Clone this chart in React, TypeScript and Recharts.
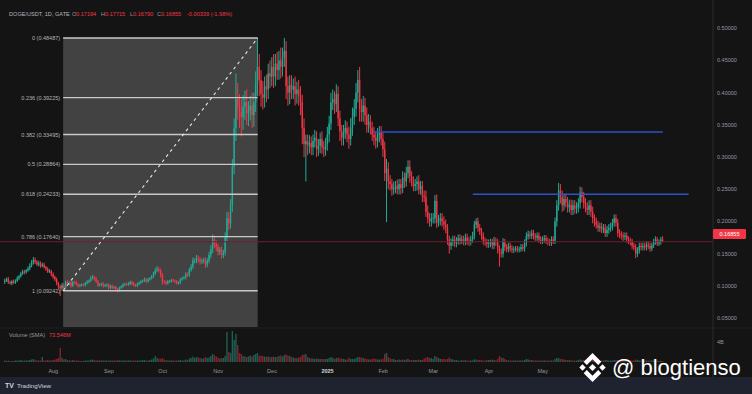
import React from "react";
import {
  ComposedChart,
  Bar,
  XAxis,
  YAxis,
  ReferenceLine,
  ReferenceArea,
} from "recharts";

// DOGE/USDT daily candles, first candle 2024-07-05, prices in 1/1000 USDT
const firstOpen = 106;

const closes = [
  // Jul 2024 (from 5th)
  108, 111, 106, 104, 107, 105, 108, 112, 115, 119, 122, 121, 124, 127, 131, 136, 140, 137, 133, 135, 131, 133, 129, 126, 122, 123, 118,
  // Aug
  114, 110, 104, 99, 96, 101, 97, 106, 104, 105, 100, 106, 105, 102, 100, 101, 102, 101, 104, 106, 108, 112, 114, 111, 107, 101, 102, 103, 100, 101, 102,
  // Sep
  97, 100, 97, 98, 95, 93, 97, 99, 102, 103, 102, 103, 106, 104, 101, 100, 103, 105, 107, 108, 110, 107, 110, 112, 114, 119, 124, 126, 124, 117,
  // Oct
  107, 106, 104, 107, 107, 109, 108, 107, 104, 105, 110, 112, 113, 118, 117, 125, 130, 139, 139, 143, 141, 138, 139, 140, 133, 139, 148, 157, 172, 166, 160,
  // Nov
  153, 156, 148, 152, 175, 205, 197, 225, 285, 345, 390, 378, 370, 362, 378, 385, 368, 372, 380, 365, 385, 415, 440, 420, 398, 392, 410, 405, 430, 425,
  // Dec
  440, 425, 445, 435, 450, 440, 455, 465, 410, 400, 412, 405, 410, 398, 405, 395, 385, 345, 320, 325, 318, 322, 315, 325, 330, 312, 318, 328, 315, 312, 320,
  // Jan 2025
  335, 352, 385, 390, 382, 398, 360, 340, 330, 338, 345, 335, 328, 345, 362, 375, 400, 420, 375, 370, 380, 365, 350, 355, 345, 335, 330, 325, 335, 338, 328,
  // Feb
  312, 275, 282, 262, 258, 250, 252, 255, 250, 258, 252, 268, 262, 275, 285, 270, 262, 255, 258, 262, 250, 255, 240, 238, 215, 205, 200, 205,
  // Mar
  205, 232, 198, 202, 205, 200, 195, 190, 172, 162, 168, 172, 166, 170, 174, 170, 172, 168, 175, 170, 168, 172, 178, 195, 200, 190, 185, 178, 170, 168, 165,
  // Apr
  166, 168, 163, 170, 168, 158, 152, 150, 168, 160, 157, 162, 158, 156, 157, 158, 156, 157, 160, 158, 166, 177, 180, 178, 182, 177, 175, 178, 172, 170,
  // May
  172, 174, 170, 168, 167, 172, 170, 200, 225, 248, 238, 225, 235, 230, 222, 226, 218, 225, 220, 222, 228, 245, 238, 228, 222, 218, 225, 215, 205, 200, 195,
  // Jun
  190, 192, 188, 190, 182, 187, 190, 192, 198, 205, 198, 182, 180, 178, 176, 178, 172, 170, 168, 162, 160, 150, 155, 162, 160, 162, 160, 164, 162, 158,
  // Jul 2025
  163, 168, 172, 166, 168, 171.94, 168.55,
];

// upper wick above the body, same units
const upWicks = [
  3, 2, 3, 2, 2, 3, 2, 3, 2, 3, 3, 3, 2, 3, 4, 4, 5, 4, 3, 4, 3, 3, 3, 2, 3, 3, 2,
  3, 2, 3, 2, 3, 4, 3, 2, 3, 2, 3, 2, 2, 3, 2, 2, 2, 2, 2, 3, 2, 3, 3, 2, 3, 2, 2, 2, 3, 2, 2,
  2, 2, 2, 2, 2, 2, 2, 2, 2, 2, 2, 3, 2, 2, 2, 2, 2, 2, 2, 2, 3, 2, 2, 2, 3, 3, 4, 5, 3, 3,
  3, 2, 2, 2, 2, 2, 2, 2, 2, 2, 2, 2, 2, 3, 3, 3, 4, 5, 4, 5, 4, 4, 3, 4, 4, 4, 5, 6, 8, 6, 5,
  5, 4, 5, 4, 8, 10, 10, 10, 12, 15, 40, 25, 20, 20, 18, 18, 20, 15, 15, 20, 15, 18, 45, 20, 15, 20, 15, 18, 15, 20,
  15, 20, 15, 18, 15, 20, 15, 20, 15, 15, 15, 15, 12, 15, 12, 15, 15, 12, 15, 10, 10, 12, 10, 10, 12, 10, 10, 10, 12, 10, 10,
  12, 12, 15, 15, 12, 15, 12, 12, 10, 12, 12, 10, 12, 15, 15, 15, 15, 15, 20, 15, 15, 12, 12, 12, 10, 10, 12, 10, 10, 10, 10,
  10, 12, 15, 10, 10, 8, 10, 8, 10, 8, 8, 10, 8, 10, 10, 10, 8, 8, 8, 8, 10, 8, 8, 8, 10, 10, 8, 8,
  8, 9, 10, 8, 8, 8, 8, 8, 6, 6, 6, 6, 6, 6, 6, 6, 6, 6, 6, 6, 6, 6, 6, 6, 5, 6, 6, 5, 5, 5, 5,
  6, 5, 5, 6, 5, 5, 5, 6, 6, 5, 5, 5, 5, 5, 4, 4, 4, 4, 5, 5, 6, 6, 6, 5, 5, 5, 5, 5, 5, 5,
  5, 5, 5, 5, 5, 5, 5, 6, 8, 12, 10, 10, 8, 8, 8, 8, 8, 8, 8, 8, 8, 9, 8, 8, 8, 8, 8, 8, 8, 6, 6,
  6, 6, 6, 6, 6, 6, 6, 6, 6, 6, 6, 6, 6, 5, 5, 5, 5, 5, 5, 5, 5, 5, 5, 5, 5, 5, 5, 5, 5, 5,
  4, 5, 5, 4, 4, 4, 5.21,
];

// lower wick below the body
const downWicks = [
  3, 2, 3, 2, 3, 2, 2, 2, 3, 2, 2, 3, 2, 2, 3, 2, 3, 3, 2, 3, 3, 2, 2, 3, 2, 2, 3,
  3, 3, 3, 4, 12, 4, 3, 2, 3, 3, 3, 2, 2, 2, 3, 2, 2, 2, 2, 2, 2, 2, 2, 3, 2, 3, 2, 2, 3, 2, 3,
  3, 2, 2, 2, 2, 3, 2, 2, 2, 2, 2, 2, 2, 3, 2, 2, 2, 2, 2, 2, 2, 3, 2, 2, 2, 2, 2, 3, 3, 4,
  5, 3, 3, 2, 2, 2, 2, 3, 2, 2, 2, 2, 2, 3, 3, 3, 3, 4, 4, 4, 5, 5, 4, 4, 5, 4, 4, 5, 6, 7, 6,
  6, 5, 6, 5, 5, 6, 10, 8, 10, 12, 20, 20, 25, 30, 20, 20, 18, 20, 15, 20, 18, 15, 20, 25, 20, 18, 15, 20, 15, 18,
  15, 18, 15, 15, 15, 18, 15, 15, 20, 20, 18, 15, 15, 18, 15, 15, 20, 25, 20, 58, 15, 12, 12, 12, 10, 12, 10, 12, 10, 12, 10,
  10, 12, 10, 12, 15, 12, 12, 15, 12, 12, 10, 12, 15, 10, 12, 12, 12, 15, 20, 15, 15, 15, 12, 12, 10, 10, 12, 12, 10, 12, 10,
  12, 12, 76, 12, 10, 10, 8, 8, 8, 8, 10, 8, 10, 8, 8, 10, 8, 8, 8, 10, 8, 8, 10, 8, 8, 8, 8, 8,
  8, 8, 8, 6, 8, 8, 8, 8, 8, 12, 6, 6, 6, 6, 6, 6, 5, 5, 5, 6, 6, 5, 5, 6, 6, 6, 6, 6, 6, 6, 6,
  6, 6, 6, 6, 6, 8, 22, 6, 6, 6, 5, 5, 5, 5, 5, 4, 4, 4, 4, 4, 5, 5, 5, 5, 5, 5, 5, 5, 5, 5,
  5, 5, 5, 5, 5, 5, 5, 5, 8, 8, 10, 10, 8, 8, 8, 8, 8, 8, 8, 8, 8, 8, 8, 8, 8, 8, 8, 8, 8, 8, 6,
  6, 6, 6, 6, 6, 6, 6, 6, 6, 6, 6, 6, 6, 6, 6, 5, 5, 5, 5, 5, 5, 7, 5, 5, 5, 5, 5, 5, 5, 5,
  4, 4, 4, 4, 4, 4, 0.65,
];

// daily volume, billions DOGE
const volumes = [
  0.3, 0.2, 0.3, 0.2, 0.2, 0.2, 0.3, 0.3, 0.3, 0.4, 0.3, 0.3, 0.3, 0.3, 0.4, 0.5, 0.6, 0.4, 0.3, 0.3, 0.3, 1.0, 0.3, 0.3, 0.4, 0.3, 0.3,
  0.4, 0.5, 0.6, 0.8, 2.8, 0.8, 0.5, 0.6, 0.4, 0.3, 0.3, 0.4, 0.3, 0.3, 0.3, 0.2, 0.2, 0.2, 0.3, 0.3, 0.3, 0.4, 0.5, 0.4, 0.3, 0.4, 0.3, 0.3, 0.3, 0.3, 0.3,
  0.3, 0.3, 0.3, 0.3, 0.3, 0.4, 0.3, 0.3, 0.3, 0.3, 0.3, 0.3, 0.3, 0.3, 0.3, 0.3, 0.3, 0.3, 0.3, 0.4, 0.4, 0.3, 0.3, 0.4, 0.5, 0.7, 1.2, 0.8, 0.7, 0.6,
  0.8, 0.5, 0.4, 0.3, 0.3, 0.3, 0.3, 0.3, 0.3, 0.3, 0.4, 0.3, 0.3, 0.5, 0.4, 0.7, 0.8, 1.1, 0.8, 1.0, 0.9, 0.8, 0.7, 0.7, 1.0, 0.8, 0.9, 1.2, 1.6, 1.3, 1.1,
  0.9, 0.7, 0.8, 0.8, 1.2, 6.0, 2.0, 1.8, 6.2, 4.4, 5.6, 3.4, 1.8, 1.6, 1.2, 1.1, 1.0, 1.1, 1.3, 1.1, 1.4, 1.6, 1.8, 1.2, 1.3, 1.2, 1.1, 1.0, 1.1, 1.0,
  1.0, 1.1, 1.0, 1.0, 1.2, 1.3, 1.1, 1.4, 1.5, 1.3, 1.2, 1.0, 0.9, 0.8, 0.8, 0.9, 1.0, 1.4, 1.5, 1.6, 1.0, 0.8, 0.7, 0.7, 0.6, 0.7, 0.6, 0.6, 0.6, 0.6, 0.6,
  0.6, 0.8, 1.0, 0.8, 0.6, 0.8, 0.9, 0.7, 0.7, 0.6, 0.5, 0.5, 0.9, 0.6, 0.6, 0.6, 0.8, 1.0, 1.0, 0.9, 0.8, 0.7, 0.6, 0.5, 0.5, 0.6, 0.7, 0.6, 0.5, 0.5, 0.5,
  0.7, 1.6, 1.8, 1.0, 0.7, 0.6, 0.6, 0.4, 0.4, 0.5, 0.4, 0.5, 0.4, 0.5, 0.6, 0.4, 0.4, 0.4, 0.4, 0.4, 0.5, 0.4, 0.4, 0.7, 0.9, 1.0, 0.8, 0.8,
  0.6, 1.2, 1.0, 0.8, 0.6, 0.6, 0.6, 0.5, 0.6, 0.9, 0.6, 0.5, 0.4, 0.4, 0.3, 0.3, 0.4, 0.3, 0.4, 0.3, 0.3, 0.3, 0.3, 0.5, 0.5, 0.4, 0.4, 0.4, 0.3, 0.3, 0.4,
  0.4, 0.4, 0.5, 0.4, 0.3, 0.6, 1.2, 0.9, 0.8, 0.6, 0.4, 0.3, 0.3, 0.3, 0.3, 0.3, 0.3, 0.3, 0.3, 0.3, 0.4, 0.6, 0.5, 0.4, 0.4, 0.3, 0.3, 0.3, 0.3, 0.3,
  0.3, 0.3, 0.3, 0.3, 0.3, 0.3, 0.3, 0.6, 0.8, 0.8, 0.6, 0.6, 0.5, 0.4, 0.4, 0.4, 0.3, 0.3, 0.3, 0.3, 0.4, 0.5, 0.4, 0.4, 0.3, 0.3, 0.3, 0.4, 0.4, 0.3, 0.3,
  0.3, 0.3, 0.3, 0.3, 0.4, 0.4, 0.3, 0.3, 0.3, 0.4, 0.4, 0.4, 0.4, 0.3, 0.3, 0.3, 0.3, 0.3, 0.3, 0.3, 0.3, 0.5, 0.4, 0.3, 0.3, 0.3, 0.3, 0.3, 0.3, 0.3,
  0.3, 0.3, 0.3, 0.3, 0.2, 0.2, 0.2,
];

// month starts, as candle index
const monthTicks = [27, 58, 88, 119, 149, 180, 211, 239, 270, 300];
const monthLabels = ["Aug", "Sep", "Oct", "Nov", "Dec", "2025", "Feb", "Mar", "Apr", "May"];

const priceTicks = [50, 100, 150, 200, 250, 300, 350, 400, 450, 500];

const fibRatios = ["0", "0.236", "0.382", "0.5", "0.618", "0.786", "1"];
const fibPrices = [484.87, 392.25, 334.95, 288.64, 242.33, 176.4, 92.42];
const fibStart = 32.5;
const fibEnd = 141;

const blueLines = [
  { from: 205.3, to: 367, price: 339 },
  { from: 261, to: 381.4, price: 242.3 },
];

const lastClose = 168.55;

const X_MIN = -2.73;
const X_MAX = 395;
const P_MIN = -18.2;
const P_MAX = 543.9;
const V_MAX = 72.4;
const FIB_FLOOR = 36.2;

const UP = "#22ab94";
const DOWN = "#f23645";
const FONT = "'Liberation Sans', Arial, sans-serif";
const GREY = "#9598a1";

const candles = closes.map((c, i) => {
  const o = i === 0 ? firstOpen : closes[i - 1];
  const h = Math.max(o, c) + upWicks[i];
  const l = Math.min(o, c) - downWicks[i];
  return { i, o, c, h, l, range: [l, h], v: volumes[i] };
});

function Candle(props: any) {
  const { x, y, width, height, payload } = props;
  if (!payload) return null;
  const { o, c, h, l } = payload;
  const top = Math.min(y, y + height);
  const span = Math.abs(height);
  const k = h > l ? span / (h - l) : 0;
  const cx = x + width / 2;
  const bTop = top + (h - Math.max(o, c)) * k;
  const bBot = top + (h - Math.min(o, c)) * k;
  const color = c >= o ? UP : DOWN;
  return (
    <g>
      <line x1={cx} x2={cx} y1={top} y2={top + span} stroke={color} strokeWidth={1} />
      <rect x={cx - 0.7} y={bTop} width={1.4} height={Math.max(bBot - bTop, 0.7)} fill={color} />
    </g>
  );
}

function VolumeBar(props: any) {
  const { x, y, width, height, payload } = props;
  if (!payload) return null;
  const top = Math.min(y, y + height);
  const color = payload.c >= payload.o ? "rgba(34,171,148,0.5)" : "rgba(242,54,69,0.5)";
  return <rect x={x + width / 2 - 0.7} y={top} width={1.4} height={Math.abs(height)} fill={color} />;
}

function MonthTick(props: any) {
  const { x, y, payload } = props;
  const label = monthLabels[monthTicks.indexOf(payload.value)];
  const bold = label === "2025";
  return (
    <text
      x={x}
      y={y + 9}
      textAnchor="middle"
      fontSize={5.5}
      fontFamily={FONT}
      fontWeight={bold ? 700 : 400}
      fill={bold ? "#d1d4dc" : GREY}
    >
      {label}
    </text>
  );
}

export default function App() {
  return (
    <div
      style={{
        position: "relative",
        width: 752,
        height: 394,
        background: "#141414",
        overflow: "hidden",
      }}
    >
      <style>{"body{margin:0}"}</style>
      <ComposedChart
        width={752}
        height={377}
        data={candles}
        margin={{ top: 0, right: 0, bottom: 0, left: 0 }}
      >
        <XAxis
          xAxisId="p"
          type="number"
          dataKey="i"
          domain={[X_MIN, X_MAX]}
          allowDataOverflow
          ticks={monthTicks}
          interval={0}
          tick={<MonthTick />}
          tickLine={false}
          axisLine={false}
          tickSize={0}
          height={15}
        />
        <XAxis
          xAxisId="v"
          type="number"
          dataKey="i"
          domain={[X_MIN, X_MAX]}
          allowDataOverflow
          hide
        />
        <YAxis
          yAxisId="p"
          orientation="right"
          domain={[P_MIN, P_MAX]}
          allowDataOverflow
          ticks={priceTicks}
          interval={0}
          tickFormatter={(v: number) => (v / 1000).toFixed(5)}
          tick={{ fill: GREY, fontSize: 5.5, fontFamily: FONT }}
          tickLine={false}
          axisLine={false}
          tickSize={0}
          tickMargin={4}
          width={39}
        />
        <YAxis yAxisId="v" domain={[0, V_MAX]} allowDataOverflow hide />

        <ReferenceArea
          xAxisId="p"
          yAxisId="p"
          x1={fibStart}
          x2={fibEnd}
          y1={FIB_FLOOR}
          y2={fibPrices[0]}
          fill="#424242"
          fillOpacity={1}
          stroke="none"
        />
        <ReferenceLine
          xAxisId="p"
          yAxisId="p"
          y={lastClose}
          stroke="#6b2230"
          strokeWidth={1}
        />

        <Bar
          xAxisId="v"
          yAxisId="v"
          dataKey="v"
          shape={<VolumeBar />}
          isAnimationActive={false}
        />
        <Bar
          xAxisId="p"
          yAxisId="p"
          dataKey="range"
          shape={<Candle />}
          isAnimationActive={false}
        />

        {fibPrices.map((p, k) => (
          <ReferenceLine
            key={`fib-${k}`}
            xAxisId="p"
            yAxisId="p"
            segment={[
              { x: fibStart, y: p },
              { x: fibEnd, y: p },
            ]}
            stroke="#c8c8c8"
            strokeWidth={1.4}
            label={{
              value: `${fibRatios[k]} (${(p / 1000).toFixed(5)})`,
              position: "left",
              fill: "#b4b4b4",
              fontSize: 5.5,
              fontFamily: FONT,
              offset: 3,
            }}
          />
        ))}
        <ReferenceLine
          xAxisId="p"
          yAxisId="p"
          segment={[
            { x: fibStart, y: fibPrices[6] },
            { x: fibEnd, y: fibPrices[0] },
          ]}
          stroke="#e6e6e6"
          strokeWidth={1.1}
          strokeDasharray="3 3.5"
        />
        {blueLines.map((b, k) => (
          <ReferenceLine
            key={`blue-${k}`}
            xAxisId="p"
            yAxisId="p"
            segment={[
              { x: b.from, y: b.price },
              { x: b.to, y: b.price },
            ]}
            stroke="#2a52c9"
            strokeWidth={1.5}
          />
        ))}
        <ReferenceLine
          xAxisId="v"
          yAxisId="v"
          y={4}
          stroke="none"
          label={{
            value: "4B",
            position: "right",
            fill: GREY,
            fontSize: 5.5,
            fontFamily: FONT,
            offset: 4,
          }}
        />
      </ComposedChart>

      <svg
        width={752}
        height={394}
        style={{ position: "absolute", left: 0, top: 0, pointerEvents: "none" }}
        fontFamily={FONT}
      >
        <line x1={713} x2={713} y1={0} y2={377} stroke="#2a2a2a" strokeWidth={1} />
        <line x1={0} x2={752} y1={328} y2={328} stroke="#2a2a2a" strokeWidth={1} strokeDasharray="1 1" />

        <g fontSize={5.6}>
          <text x={9} y={16} fill="#b2b5be">DOGE/USDT, 1D, GATE</text>
          <text x={72} y={16} fill={GREY}>O</text>
          <text x={76} y={16} fill={DOWN}>0.17194</text>
          <text x={101} y={16} fill={GREY}>H</text>
          <text x={105} y={16} fill={DOWN}>0.17715</text>
          <text x={130} y={16} fill={GREY}>L</text>
          <text x={133} y={16} fill={DOWN}>0.16790</text>
          <text x={157} y={16} fill={GREY}>C</text>
          <text x={161} y={16} fill={DOWN}>0.16855</text>
          <text x={187} y={16} fill={DOWN}>-0.00339 (-1.98%)</text>
          <text x={9} y={337} fill={GREY}>Volume (SMA)</text>
          <text x={49} y={337} fill={DOWN}>73.546M</text>
        </g>

        <rect x={713} y={229} width={33} height={10} fill={DOWN} rx={1} />
        <text x={729.5} y={236} fontSize={5.6} fill="#ffffff" textAnchor="middle">0.16855</text>

        <rect x={0} y={377} width={752} height={17} fill="#1f2330" />
        <text x={5} y={388} fontSize={7} fontWeight={700} fill="#d1d4dc">TV</text>
        <text x={17} y={388} fontSize={6.2} fill="#d1d4dc">TradingView</text>

        <g transform="translate(592.5 367.5)" fill="#ffffff">
          <polygon points="0,-3.6 3.6,0 0,3.6 -3.6,0" />
          <polygon points="-10,-3.2 -6.8,0 -10,3.2 -13.2,0" />
          <polygon points="10,-3.2 13.2,0 10,3.2 6.8,0" />
          <polygon points="0,-14.5 8.8,-5.7 5.7,-2.6 0,-8.3 -5.7,-2.6 -8.8,-5.7" />
          <polygon points="0,14.5 8.8,5.7 5.7,2.6 0,8.3 -5.7,2.6 -8.8,5.7" />
        </g>
        <text x={612} y={375} fontSize={22} fill="#ffffff">@ blogtienso</text>
      </svg>
    </div>
  );
}
